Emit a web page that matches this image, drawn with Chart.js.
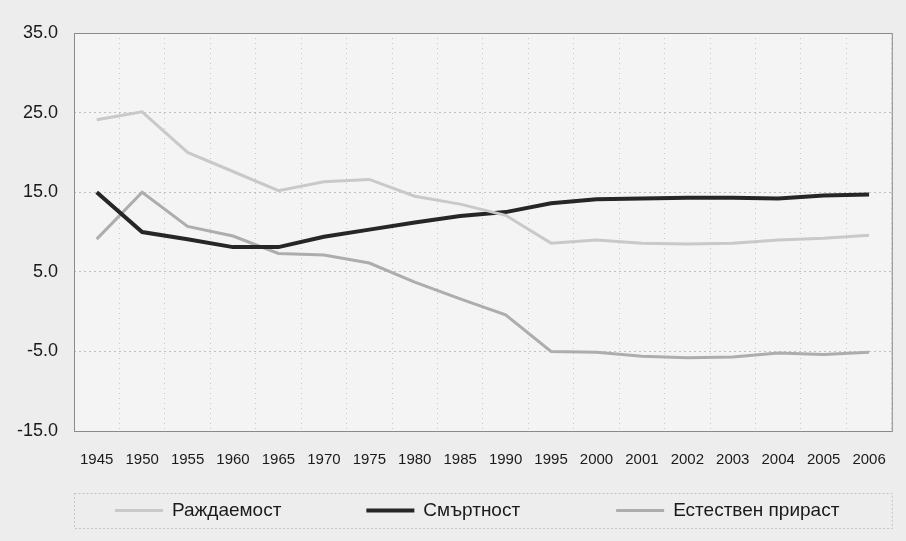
<!DOCTYPE html>
<html>
<head>
<meta charset="utf-8">
<script src="https://cdn.jsdelivr.net/npm/chart.js@4/dist/chart.umd.min.js"></script>
<style>
  html, body { margin: 0; padding: 0; background: #ededed; }
  #wrap { width: 906px; height: 541px; }
</style>
</head>
<body>
<div id="wrap"><canvas id="myChart" width="906" height="541"></canvas></div>
<script>
const years = ['1945', '1950', '1955', '1960', '1965', '1970', '1975', '1980', '1985', '1990',
               '1995', '2000', '2001', '2002', '2003', '2004', '2005', '2006'];

const birthRate = [24.1, 25.1, 20.0, 17.6, 15.2, 16.3, 16.6, 14.5, 13.5, 12.1,
                   8.6, 9.0, 8.6, 8.5, 8.6, 9.0, 9.2, 9.6];
const deathRate = [15.0, 10.0, 9.1, 8.1, 8.1, 9.4, 10.3, 11.2, 12.0, 12.5,
                   13.6, 14.1, 14.2, 14.3, 14.3, 14.2, 14.6, 14.7];
const naturalIncrease = [9.1, 15.0, 10.7, 9.5, 7.3, 7.1, 6.1, 3.7, 1.6, -0.4,
                         -5.0, -5.1, -5.6, -5.8, -5.7, -5.2, -5.4, -5.1];

const seriesNames = ['Раждаемост', 'Смъртност', 'Естествен прираст'];

const font = 'Liberation Sans';

// plot background, frame, and a boxed legend under the axis
const framePlugin = {
  id: 'frame',
  beforeDraw(chart) {
    const { ctx, chartArea: { left, right, top, bottom } } = chart;
    ctx.save();
    ctx.fillStyle = '#f4f4f4';
    ctx.fillRect(left, top, right - left, bottom - top);
    ctx.restore();
  },
  afterDraw(chart) {
    const { ctx, chartArea: { left, right, top, bottom } } = chart;
    ctx.save();
    ctx.strokeStyle = '#8a8a8a';
    ctx.lineWidth = 1;
    ctx.strokeRect(left + 0.5, top + 0.5, right - left, bottom - top);

    // legend
    const boxTop = bottom + 62, boxH = 35;
    ctx.strokeStyle = '#c4c4c4';
    ctx.setLineDash([2, 2]);
    ctx.strokeRect(left + 0.5, boxTop + 0.5, right - left, boxH);
    ctx.setLineDash([]);
    ctx.font = '19px ' + font;
    ctx.textBaseline = 'middle';
    ctx.fillStyle = '#1a1a1a';
    const midY = boxTop + boxH / 2;
    const gaps = [85, 96, 0];
    let x = left + 41;
    chart.data.datasets.forEach((ds, i) => {
      ctx.strokeStyle = ds.borderColor;
      ctx.lineWidth = ds.borderWidth;
      ctx.beginPath();
      ctx.moveTo(x, midY);
      ctx.lineTo(x + 48, midY);
      ctx.stroke();
      x += 57;
      ctx.fillText(ds.label, x, midY);
      x += ctx.measureText(ds.label).width + gaps[i];
    });
    ctx.restore();
  }
};

const ctx = document.getElementById('myChart').getContext('2d');
new Chart(ctx, {
  type: 'line',
  data: {
    labels: years,
    datasets: [
      { label: seriesNames[0], data: birthRate, borderColor: '#c9c9c9', borderWidth: 3 },
      { label: seriesNames[1], data: deathRate, borderColor: '#262626', borderWidth: 4 },
      { label: seriesNames[2], data: naturalIncrease, borderColor: '#adadad', borderWidth: 3 }
    ].map(d => ({ ...d, pointRadius: 0, tension: 0, fill: false, backgroundColor: d.borderColor }))
  },
  options: {
    responsive: false,
    animation: false,
    layout: { padding: { top: 33, right: 9, left: 0, bottom: 0 } },
    scales: {
      x: {
        offset: true,
        grid: { offset: true, color: '#c8c8c8', drawTicks: false },
        border: { display: false, dash: [1, 4] },
        ticks: {
          color: '#1a1a1a',
          font: { family: font, size: 15 },
          padding: 20,
          maxRotation: 0,
          autoSkip: false
        },
        afterFit(scale) { scale.height = 110; }
      },
      y: {
        min: -15,
        max: 35,
        grid: { color: '#c0c0c0', drawTicks: false },
        border: { display: false, dash: [2, 3] },
        ticks: {
          stepSize: 10,
          color: '#1a1a1a',
          font: { family: font, size: 18 },
          padding: 16,
          callback: v => v.toFixed(1)
        },
        afterFit(scale) { scale.width = 74; }
      }
    },
    plugins: {
      legend: { display: false },
      tooltip: { enabled: false }
    }
  },
  plugins: [framePlugin]
});
</script>
</body>
</html>
